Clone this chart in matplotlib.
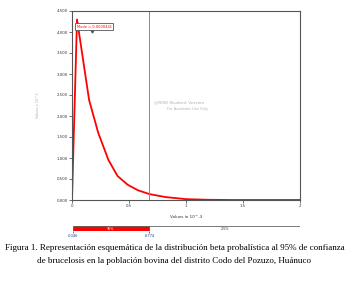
import matplotlib.pyplot as plt
import numpy as np

# curve (x in 10^-3, density)
xv = [0.0, 0.012, 0.044, 0.15, 0.23, 0.32, 0.40, 0.49, 0.58, 0.68, 0.82, 1.0, 1.2, 1.4, 2.0]
yv = [0.0, 1.2, 4.3, 2.38, 1.6, 0.95, 0.57, 0.36, 0.23, 0.14, 0.07, 0.02, 0.005, 0.0, 0.0]
yticks = [0, 0.5, 1, 1.5, 2, 2.5, 3, 3.5, 4, 4.5]
ylabels = ['0.000', '0.500', '1.000', '1.500', '2.000', '2.500', '3.000', '3.500', '4.000', '4.500']
xticks = [0, 0.5, 1, 1.5, 2]
xlabels = ['0', '0.5', '1', '1.5', '2']
lo, hi = 0.0046, 0.6774
pct = ['95%', '2.5%']

fig = plt.figure(figsize=(3.5, 2.84), dpi=100)

ax = fig.add_axes([72/350, 1-200/284, 228/350, 189/284])
ax.plot(xv, yv, color='#ff0000', lw=1.3)
ax.axvline(hi, color='#888888', lw=0.7)
ax.set_xlim(0, 2)
ax.set_ylim(0, 4.5)
ax.set_yticks(yticks)
ax.set_yticklabels(ylabels)
ax.set_xticks(xticks)
ax.set_xticklabels(xlabels)
ax.tick_params(labelsize=2.8, length=2, width=0.5, pad=1, colors='#333333')
for s in ax.spines.values():
    s.set_color('#555555')
    s.set_linewidth(0.8)
ax.set_xlabel('Values in 10^-3', fontsize=3, labelpad=5, color='#333333')
ax.set_ylabel('Values x 10^3', fontsize=2.5, color='#aaaaaa', labelpad=12)
ax.text(0.04, 4.13, 'Mode = 0.0000441', fontsize=2.6, color='red', va='center',
        bbox=dict(boxstyle='square,pad=0.3', fc='white', ec='#555555', lw=0.6))
ax.plot([0.175], [4.02], marker='v', ms=2.2, color='#555555')
ax.text(0.72, 2.3, '@RISK Student Version', fontsize=3.2, color='#b0b0b0')
ax.text(0.83, 2.15, 'For Academic Use Only', fontsize=2.5, color='#b0b0b0')

# confidence bar
bx = fig.add_axes([72/350, 1-231/284, 228/350, 5/284])
bx.barh([0], [hi - lo], left=[lo], height=1, color='#ff0000', edgecolor='#444444', lw=0.5)
bx.barh([0], [2 - hi], left=[hi], height=1, color='white', edgecolor='#444444', lw=0.5)
bx.text((lo + hi) / 2, 0, pct[0], fontsize=2.4, color='white', ha='center', va='center')
bx.text((hi + 2) / 2, 0, pct[1], fontsize=2.4, color='#333333', ha='center', va='center')
bx.set_xlim(0, 2)
bx.set_ylim(-0.5, 0.5)
bx.set_xticks([lo, hi])
bx.set_xticklabels(['.0046', '.6774'])
bx.set_yticks([])
bx.tick_params(labelsize=2.6, length=1.5, width=0.5, pad=0.5, colors='#1a3c8a')
for s in bx.spines.values():
    s.set_visible(False)

fig.text(5/350, 1-248/284,
         'Figura 1. Representación esquemática de la distribución beta probalística al 95% de confianza',
         fontsize=6.45, family='Liberation Serif', va='center')
fig.text(37/350, 1-261/284,
         'de brucelosis en la población bovina del distrito Codo del Pozuzo, Huánuco',
         fontsize=6.45, family='Liberation Serif', va='center')

fig.savefig('out.png', dpi=100)
